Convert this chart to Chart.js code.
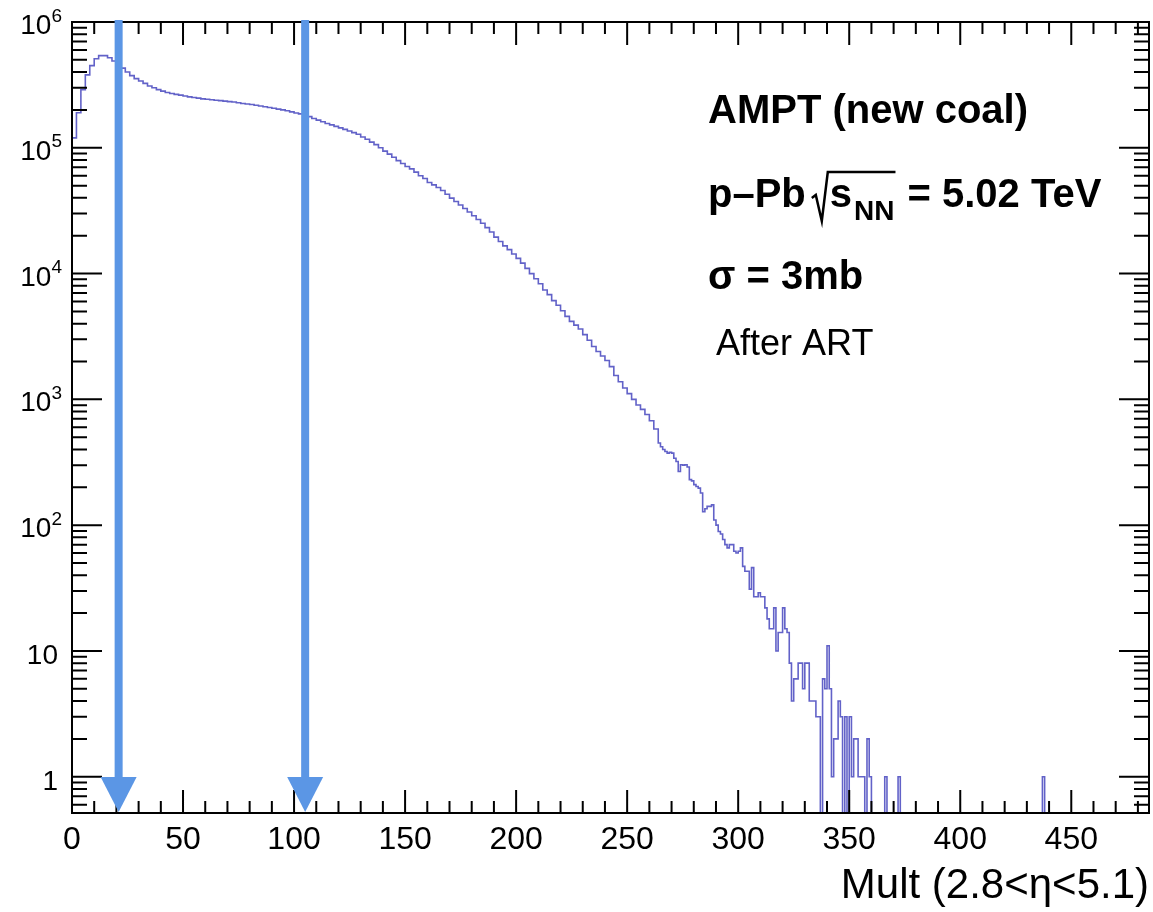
<!DOCTYPE html>
<html>
<head>
<meta charset="utf-8">
<script src="https://cdn.jsdelivr.net/npm/chart.js@4.4.1/dist/chart.umd.min.js"></script>
<style>
  html, body { margin: 0; padding: 0; background: #fff; }
  #wrap { width: 1153px; height: 912px; }
</style>
</head>
<body>
<div id="wrap"><canvas id="c"></canvas></div>
<script>
// multiplicity histogram, smooth part in 2-wide bins (low edge = coarseStart + 2*i)
const coarseStart = 0;
const coarseWidth = 2;
const coarseCounts = [
  120000, 190000, 290000, 380000, 450000, 510000, 540000, 540000, 520000, 490000,
  460000, 430000, 400000, 375000, 355000, 340000, 325000, 310000, 300000, 290000,
  282000, 275000, 270000, 266000, 262000, 258000, 254000, 251000, 248000, 245000,
  243000, 241000, 239000, 237000, 235000, 233000, 231000, 228000, 225000, 223000,
  221000, 218000, 215000, 212000, 209000, 206000, 203000, 200000, 197000, 193000,
  189000, 186000, 182000, 177000, 171000, 166000, 161000, 156000, 152000, 148000,
  144000, 140000, 136000, 132000, 128000, 122000, 117000, 111000, 106000, 100000,
  94000, 89000, 84000, 79000, 75000, 71000, 68000, 64000, 60000, 57000,
  53000, 50700, 48400, 45700, 42700, 39800, 37400, 35100, 32900, 30900,
  28800, 26900, 25100, 23200, 21400, 19500, 18000, 16600, 15500, 14300,
  13200, 12100, 11000, 10000, 9100, 8300, 7400, 6800, 6100, 5600,
  5070, 4570, 4170, 3890, 3630, 3270, 2950, 2630, 2400, 2210,
  2040, 1820, 1550, 1380, 1230, 1110, 1000, 902, 832, 759,
  676, 582
];

// noisy tail in 1-wide bins starting at 264
const fineStart = 264;
const fineCounts = [
  450, 420, 400, 385, 374, 380, 374, 340, 321, 267,
  302, 300, 302, 290, 230, 225, 210, 203, 197, 180,
  128, 135, 141, 141, 145, 110, 100, 89, 85, 77,
  70, 66, 70, 70, 62, 60, 62, 66, 47, 43,
  43, 31, 46, 27, 27, 29, 27, 27, 22, 18,
  15, 15, 22, 10, 14, 14, 22, 15, 14, 8,
  4, 6, 6, 8, 8, 5, 8, 8, 4, 4,
  4, 3, 3, 0, 6, 5, 11, 5, 1, 2,
  2, 4, 3, 0, 3, 0, 3, 1, 2, 2,
  1, 1, 1, 0, 2, 1, 0, 0, 0, 0,
  0, 0, 1, 0, 0, 0, 0, 0, 1, 0,
  0
];

// single far-out entries
const loneMult = [437];
const loneCounts = [1];

// centrality cut arrows
const cutMult = [21, 105];

const xMin = 0, xMax = 485;
const yMin = 0.515, yMax = 1e6;
const yTickValues = [1, 10, 100, 1e3, 1e4, 1e5, 1e6];
const yTickLabels = [["1", ""], ["10", ""], ["10", "2"], ["10", "3"], ["10", "4"], ["10", "5"], ["10", "6"]];

const FONT = '"Liberation Sans", Arial, Helvetica, sans-serif';
const LINE_COLOR = "#6262c8";
const ARROW_COLOR = "rgb(91,150,229)";

function histPoints() {
  const pts = [];
  // empty bins sit on the bottom of the frame, like ROOT draws them
  const put = (x, n) => pts.push({ x, y: n > 0 ? n : yMin });
  coarseCounts.forEach((n, i) => put(coarseStart + i * coarseWidth, n));
  fineCounts.forEach((n, i) => put(fineStart + i, n));
  let end = fineStart + fineCounts.length;
  loneMult.forEach((m, i) => {
    put(end, 0);
    put(m, loneCounts[i]);
    end = m + 1;
  });
  put(end, 0);
  return pts;
}

const rootFrame = {
  id: "rootFrame",
  afterDatasetsDraw(chart) {
    const { ctx, chartArea: a, scales } = chart;
    const xs = scales.x, ys = scales.y;
    ctx.save();

    // frame
    ctx.strokeStyle = "#000";
    ctx.lineWidth = 2;
    ctx.strokeRect(a.left, a.top, a.right - a.left, a.bottom - a.top);

    // x ticks, inward on bottom and top
    ctx.beginPath();
    for (let v = xMin; v <= xMax; v += 10) {
      const px = xs.getPixelForValue(v);
      const len = v % 50 === 0 ? 23 : 12;
      ctx.moveTo(px, a.bottom); ctx.lineTo(px, a.bottom - len);
      ctx.moveTo(px, a.top); ctx.lineTo(px, a.top + len);
    }
    // y ticks, inward on left and right
    for (let d = 0.1; d <= yMax; d *= 10) {
      for (let k = 1; k <= 9; k++) {
        const v = k * d;
        if (v < yMin || v > yMax * 1.0001) continue;
        const py = ys.getPixelForValue(v);
        const len = k === 1 ? 30 : 15;
        ctx.moveTo(a.left, py); ctx.lineTo(a.left + len, py);
        ctx.moveTo(a.right, py); ctx.lineTo(a.right - len, py);
      }
    }
    ctx.stroke();

    // y labels with superscript exponents
    ctx.fillStyle = "#000";
    ctx.textBaseline = "alphabetic";
    ctx.textAlign = "right";
    yTickValues.forEach((v, i) => {
      const py = ys.getPixelForValue(v);
      const [base, exp] = yTickLabels[i];
      if (exp) {
        ctx.font = `19px ${FONT}`;
        const ew = ctx.measureText(exp).width;
        ctx.fillText(exp, 62, py - 0.5);
        ctx.font = `28px ${FONT}`;
        ctx.fillText(base, 62 - ew, py + 12);
      } else {
        ctx.font = `28px ${FONT}`;
        ctx.fillText(base, 58, py + 13);
      }
    });

    // arrows
    ctx.fillStyle = ARROW_COLOR;
    cutMult.forEach((m) => {
      const px = xs.getPixelForValue(m);
      const headTop = a.bottom - 36;
      ctx.fillRect(px - 4, a.top - 2, 8, headTop - a.top + 4);
      ctx.beginPath();
      ctx.moveTo(px - 18, headTop);
      ctx.lineTo(px + 18, headTop);
      ctx.lineTo(px, a.bottom - 1);
      ctx.closePath();
      ctx.fill();
    });

    // legend text
    ctx.fillStyle = "#000";
    ctx.strokeStyle = "#000";
    ctx.textAlign = "left";
    ctx.font = `bold 40px ${FONT}`;
    ctx.fillText("AMPT (new coal)", 708, 123);

    let x = 708;
    const yb = 207;
    ctx.fillText("p\u2013Pb", x, yb);
    x += ctx.measureText("p\u2013Pb").width + 6;
    const sx = x + 18;
    const sw = ctx.measureText("s").width;
    ctx.font = `bold 28px ${FONT}`;
    const nw = ctx.measureText("NN").width;
    ctx.lineWidth = 2.5;
    ctx.beginPath();
    ctx.moveTo(x, 198);
    ctx.lineTo(x + 4, 195);
    ctx.lineTo(x + 10, 221);
    ctx.lineTo(x + 16, 172);
    ctx.lineTo(sx + sw + 2 + nw + 1, 172);
    ctx.stroke();
    ctx.font = `bold 40px ${FONT}`;
    ctx.fillText("s", sx, yb);
    ctx.font = `bold 28px ${FONT}`;
    ctx.fillText("NN", sx + sw + 2, 220);
    ctx.font = `bold 40px ${FONT}`;
    ctx.fillText("= 5.02 TeV", sx + sw + 2 + nw + 13, yb);

    ctx.fillText("\u03c3 = 3mb", 708, 289);
    ctx.font = `36px ${FONT}`;
    ctx.fillText("After ART", 716, 355);

    ctx.restore();
  }
};

new Chart(document.getElementById("c"), {
  type: "line",
  data: {
    datasets: [{
      data: histPoints(),
      stepped: "before",
      borderColor: LINE_COLOR,
      borderWidth: 1.6,
      pointRadius: 0,
      fill: false,
      tension: 0
    }]
  },
  options: {
    responsive: true,
    maintainAspectRatio: false,
    animation: false,
    events: [],
    layout: { padding: { left: 72, top: 22, right: 4, bottom: 0 } },
    plugins: { legend: { display: false }, tooltip: { enabled: false } },
    scales: {
      x: {
        type: "linear",
        min: xMin,
        max: xMax,
        grid: { display: false, drawTicks: false },
        border: { display: false },
        ticks: {
          stepSize: 50,
          includeBounds: false,
          autoSkip: false,
          maxRotation: 0,
          padding: 8,
          color: "#000",
          font: { family: FONT, size: 32 }
        },
        title: {
          display: true,
          text: "Mult (2.8<\u03b7<5.1)",
          align: "end",
          color: "#000",
          padding: 0,
          font: { family: FONT, size: 42 }
        },
        afterFit(scale) { scale.height = 99; }
      },
      y: {
        type: "logarithmic",
        display: false,
        min: yMin,
        max: yMax
      }
    }
  },
  plugins: [rootFrame]
});
</script>
</body>
</html>
